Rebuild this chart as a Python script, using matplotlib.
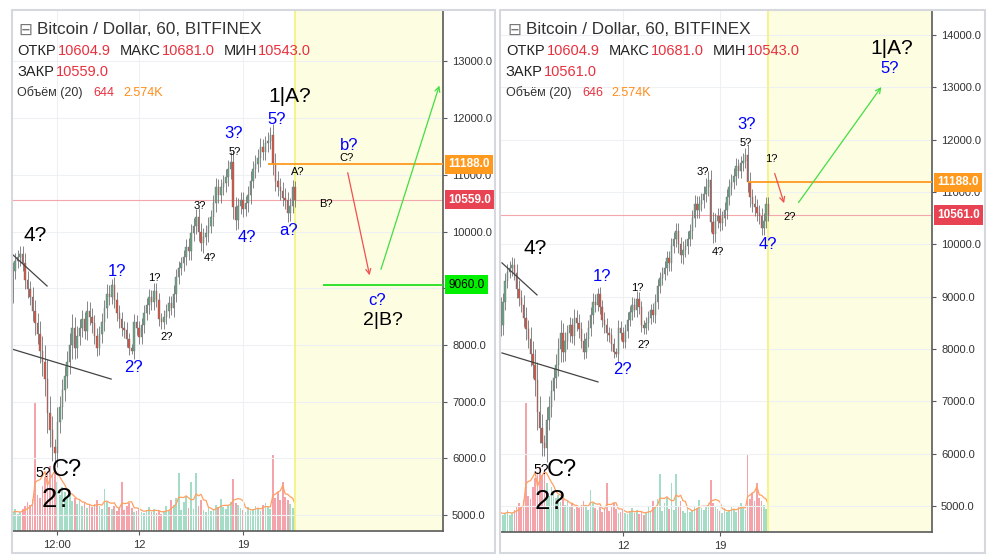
import numpy as np
import pandas as pd
import matplotlib
matplotlib.use('Agg')
import matplotlib.pyplot as plt
from matplotlib.patches import Rectangle

plt.rcParams['font.family'] = ['Liberation Sans', 'DejaVu Sans']

# 4-hour bars, time in days of February
t_start = 3.0
bar_step = 1 / 6
first_open = 8900
closes = [
    8800, 8450, 8900, 9300, 9480, 9550,
    9600, 9450, 9150, 8980, 8850, 8600,
    8380, 8200, 7900, 7700, 7400, 6800,
    6500, 6200, 6100, 6650, 6900, 7200,
    7450, 7700, 8000, 8300, 7950, 8150,
    8300, 8450, 8250, 8600, 8500, 8380,
    8150, 7950, 8200, 8400, 8650, 8900,
    8850, 9050, 8800, 8560, 8450, 8300,
    8260, 8100, 7950, 7900, 8400, 8300,
    8140, 8350, 8560, 8700, 8840, 8750,
    8960, 8800, 8450, 8400, 8500, 8600,
    8740, 8650, 8900, 9200, 9350, 9440,
    9550, 9730, 9650, 9970, 10100, 10250,
    10000, 9800, 9900, 9970, 10100, 10250,
    10500, 10780, 10650, 10780, 10850, 10960,
    11100, 11230, 10430, 10200, 10450, 10550,
    10400, 10500, 10650, 10900, 11100, 11200,
    11300, 11490, 11400, 11560, 11600, 11700,
    11200, 10900, 10780, 10720, 10600, 10550,
    10320, 10450, 10780, 10559,
]
wicks = [
    150, 200, 180, 160, 140, 130,
    150, 140, 170, 160, 150, 180,
    200, 180, 220, 250, 300, 350,
    300, 250, 150, 250, 200, 200,
    180, 200, 220, 250, 200, 180,
    150, 160, 140, 170, 150, 160,
    140, 150, 130, 160, 150, 170,
    150, 120, 140, 130, 150, 140,
    130, 140, 120, 60, 150, 130,
    120, 130, 140, 120, 150, 130,
    140, 130, 120, 110, 120, 130,
    120, 130, 150, 140, 130, 120,
    130, 140, 150, 160, 140, 150,
    160, 150, 170, 140, 150, 130,
    150, 160, 140, 150, 140, 150,
    160, 170, 200, 180, 150, 140,
    140, 130, 150, 160, 140, 150,
    150, 160, 140, 130, 150, 140,
    200, 180, 160, 170, 150, 160,
    150, 140, 130, 120,
]
volumes = [
    2600, 3000, 2400, 2800, 3200, 2500,
    2700, 3100, 3600, 4200, 3800, 4600,
    18500, 5200, 4800, 6500, 7800, 8600,
    9400, 8200, 9000, 7100, 5200, 6400,
    5600, 4900, 5300, 4300, 4700, 3900,
    4400, 3600, 4100, 3300, 3700, 3400,
    3900, 4500, 3600, 3200, 6000, 4200,
    3400, 3100, 3600, 2900, 3300, 7000,
    3000, 3600, 4100, 3300, 2700, 2900,
    3200, 2800, 2600, 3000, 3400, 2700,
    3100, 2600, 2900, 2500, 2800, 3600,
    2900, 4500, 3700, 4800, 8300, 3000,
    4200, 5000, 3300, 7000, 3100, 8300,
    3600, 4400, 3000, 2800, 3300, 2900,
    3100, 3800, 3400, 4600, 3500, 3200,
    3700, 4200, 7500, 4100, 3800, 3300,
    3000, 2700, 3400, 2900, 3200, 3600,
    3300, 2900, 3700, 4100, 3500, 3100,
    11000, 4800, 5600, 4400, 7000, 4900,
    4500, 3900, 3300, 2800,
]

t = t_start + np.arange(len(closes)) * bar_step
opens = [first_open] + closes[:-1]
df = pd.DataFrame({'t': t, 'open': opens, 'close': closes, 'wick': wicks, 'vol': volumes})
df['high'] = df[['open', 'close']].max(axis=1) + df['wick']
df['low'] = df[['open', 'close']].min(axis=1) - df['wick']
df['up'] = df['close'] >= df['open']
df['vol_ma'] = df['vol'].rolling(5, min_periods=1).mean()

forecast_start = 22.5

GREEN = '#6ba583'
RED = '#d75442'
WICK = '#737375'
BLUE = '#0000ff'

panels = [
    dict(rect=[0.012, 0.0484, 0.431, 0.934], xlim=(3.45, 32.45), ylim=(4720, 13910),
         yticks=list(range(5000, 14000, 1000)), hide_tick=9000,
         xticks=[6.5, 12, 19], xticklabels=['12:00', '12', '19'],
         close=10559.0, close_txt='10559.0', vol_last='644',
         hl_orange=(20.68, 11188), hl_green=(24.38, 9060),
         frame=(12, 10, 495, 553), hx=17,
         labels=[
             ('1|A?', 22.16, 12374, 15, 'black'), ('5?', 21.29, 11968, 12, BLUE),
             ('3?', 18.33, 11721, 12, BLUE), ('5?', 18.46, 11404, 8, 'black'),
             ('3?', 16.10, 10451, 8, 'black'), ('4?', 16.78, 9534, 8, 'black'),
             ('4?', 19.27, 9904, 12, BLUE), ('a?', 22.09, 10010, 12, BLUE),
             ('A?', 22.70, 11051, 8, 'black'), ('B?', 24.58, 10486, 8, 'black'),
             ('C?', 25.93, 11298, 8, 'black'), ('b?', 26.13, 11509, 12, BLUE),
             ('c?', 28.02, 8793, 12, BLUE), ('2|B?', 28.42, 8440, 14, 'black'),
             ('1?', 10.52, 9287, 12, BLUE), ('1?', 13.01, 9181, 8, 'black'),
             ('2?', 13.88, 8140, 8, 'black'), ('2?', 11.60, 7611, 12, BLUE),
             ('4?', 5.00, 9922, 15, 'black'), ('5?', 5.54, 5741, 10, 'black'),
             ('C?', 7.15, 5794, 17, 'black'), ('2?', 6.48, 5265, 20, 'black'),
         ],
         arrows=[((26.0, 11086), (27.55, 9181), '#f05050'), ((28.22, 9287), (32.26, 12621), '#44dd44')],
         trend=[((3.52, 9587), (5.81, 9040)), ((3.45, 7928), (10.12, 7399))],
         hdr=[(58, 120, 162, 224, 258), (56,), (93, 123)]),
    dict(rect=[0.500, 0.0466, 0.432, 0.9354], xlim=(3.13, 34.3), ylim=(4503, 14478),
         yticks=list(range(5000, 15000, 1000)), hide_tick=None,
         xticks=[12, 19], xticklabels=['12', '19'],
         close=10561.0, close_txt='10561.0', vol_last='646',
         hl_orange=(21.02, 11188), hl_green=None,
         frame=(500, 10, 985, 553), hx=506,
         labels=[
             ('1|A?', 31.41, 13738, 15, 'black'), ('5?', 31.26, 13356, 12, BLUE),
             ('3?', 20.95, 12285, 12, BLUE), ('5?', 20.87, 11941, 8, 'black'),
             ('3?', 17.77, 11386, 8, 'black'), ('4?', 18.85, 9857, 8, 'black'),
             ('1?', 22.68, 11635, 8, 'black'), ('2?', 24.05, 10526, 8, 'black'),
             ('4?', 22.46, 9990, 12, BLUE), ('4?', 5.65, 9914, 15, 'black'),
             ('1?', 10.48, 9379, 12, BLUE), ('1?', 13.01, 9168, 8, 'black'),
             ('2?', 13.52, 8078, 8, 'black'), ('2?', 11.93, 7600, 12, BLUE),
             ('5?', 6.08, 5688, 10, 'black'), ('C?', 7.60, 5688, 17, 'black'),
             ('2?', 6.73, 5077, 20, 'black'),
         ],
         arrows=[((22.89, 11406), (23.69, 10736), '#f05050'), ((24.55, 10755), (30.76, 13050), '#44dd44')],
         trend=[((3.27, 9646), (5.80, 9034)), ((3.27, 7925), (10.20, 7371))],
         hdr=[(547, 609, 651, 713, 747), (544,), (582, 611)]),
]

fig = plt.figure(figsize=(10, 5.58), dpi=100)
fig.patch.set_facecolor('white')


def fx(px):
    return px / 1000


def fy(py):
    return 1 - py / 558


for p in panels:
    x0, y0, x1, y1 = p['frame']
    fig.patches.append(Rectangle((fx(x0), fy(y1)), fx(x1 - x0), (y1 - y0) / 558,
                                 transform=fig.transFigure, fill=False, ec='#d5d8dd', lw=1.5))

    ax = fig.add_axes(p['rect'])
    axv = ax.twinx()
    ax.set_zorder(axv.get_zorder() + 1)
    ax.patch.set_visible(False)

    # volume
    vcol = np.where(df['up'], '#a5dcc6', '#f4a3aa')
    axv.bar(df['t'], df['vol'], width=bar_step * 0.7, color=vcol, zorder=1)
    axv.plot(df['t'], df['vol_ma'], color='#ffa060', lw=0.9, zorder=2)
    axv.set_ylim(0, 75000)
    axv.set_yticks([])
    for s in axv.spines.values():
        s.set_visible(False)

    ax.set_xlim(*p['xlim'])
    ax.set_ylim(*p['ylim'])
    ax.axvspan(forecast_start, p['xlim'][1], color='#fdfde2', zorder=0)
    ax.axvline(forecast_start, color='#f3f37a', lw=1.2, zorder=0.5)
    for yt in p['yticks']:
        ax.axhline(yt, color='#eef1f4', lw=0.8, zorder=0.3)
    for xt in p['xticks']:
        ax.axvline(xt, color='#eef1f4', lw=0.8, zorder=0.3)

    # candles
    ccol = np.where(df['up'], GREEN, RED)
    ax.vlines(df['t'], df['low'], df['high'], color=WICK, lw=0.6, zorder=3)
    ax.bar(df['t'], (df['close'] - df['open']).abs().clip(lower=20),
           bottom=df[['open', 'close']].min(axis=1), width=bar_step * 0.6,
           color=ccol, edgecolor=WICK, lw=0.3, zorder=4)

    # horizontal levels
    ax.axhline(p['close'], color='#f4a6ad', lw=0.8, zorder=2)
    ox, oy = p['hl_orange']
    ax.hlines(oy, ox, p['xlim'][1], color='#ff9a1f', lw=1.3, zorder=5)
    tr = ax.get_yaxis_transform()
    ax.text(1.012, oy, '11188.0', transform=tr, ha='left', va='center', color='white',
            fontsize=8.5, fontweight='bold', zorder=10,
            bbox=dict(boxstyle='square,pad=0.3', fc='#ff9a1f', ec='none'), clip_on=False)
    ax.text(1.012, p['close'], p['close_txt'], transform=tr, ha='left', va='center', color='white',
            fontsize=8.5, fontweight='bold', zorder=10,
            bbox=dict(boxstyle='square,pad=0.3', fc='#e84352', ec='none'), clip_on=False)
    if p['hl_green']:
        gx, gy = p['hl_green']
        ax.hlines(gy, gx, p['xlim'][1], color='#22e022', lw=1.3, zorder=5)
        ax.text(1.012, gy, '9060.0', transform=tr, ha='left', va='center', color='black',
                fontsize=8.5, zorder=10,
                bbox=dict(boxstyle='square,pad=0.3', fc='#00f000', ec='none'), clip_on=False)

    for (a, b) in p['trend']:
        ax.plot([a[0], b[0]], [a[1], b[1]], color='#444444', lw=0.9, zorder=6)
    for (a, b, c) in p['arrows']:
        ax.annotate('', xy=b, xytext=a,
                    arrowprops=dict(arrowstyle='->', color=c, lw=0.9, mutation_scale=9), zorder=7)
    for (s, lx, ly, fs, c) in p['labels']:
        ax.text(lx, ly, s, fontsize=fs, color=c, ha='center', va='center', zorder=8)

    # axes styling
    for k in ('left', 'top'):
        ax.spines[k].set_visible(False)
    for k in ('right', 'bottom'):
        ax.spines[k].set_color('#5a5a5a')
        ax.spines[k].set_linewidth(1.2)
    ax.yaxis.tick_right()
    ax.set_yticks(p['yticks'])
    # the 9060 price tag covers the 9000 label in the left panel
    ax.set_yticklabels(['' if v == p['hide_tick'] else f'{v:.1f}' for v in p['yticks']])
    ax.set_xticks(p['xticks'])
    ax.set_xticklabels(p['xticklabels'])
    ax.tick_params(axis='both', colors='#5a5a5a', labelcolor='#333333', labelsize=8, length=3)

    # header
    hx = p['hx']
    fig.text(fx(hx + 1), fy(30), '\u229f', fontsize=12, color='#777777', va='center',
             family='DejaVu Sans')
    fig.text(fx(hx + 20), fy(30), 'Bitcoin / Dollar, 60, BITFINEX', fontsize=12.3, color='#333333',
             va='center')
    h2 = p['hdr'][0]
    fs2 = 10.5
    fig.text(fx(hx), fy(51), 'ОТКР', fontsize=fs2, color='#222222', va='center')
    fig.text(fx(h2[0]), fy(51), '10604.9', fontsize=fs2, color='#e8313f', va='center')
    fig.text(fx(h2[1]), fy(51), 'МАКС', fontsize=fs2, color='#222222', va='center')
    fig.text(fx(h2[2]), fy(51), '10681.0', fontsize=fs2, color='#e8313f', va='center')
    fig.text(fx(h2[3]), fy(51), 'МИН', fontsize=fs2, color='#222222', va='center')
    fig.text(fx(h2[4]), fy(51), '10543.0', fontsize=fs2, color='#e8313f', va='center')
    fig.text(fx(hx), fy(72), 'ЗАКР', fontsize=fs2, color='#222222', va='center')
    fig.text(fx(p['hdr'][1][0]), fy(72), p['close_txt'], fontsize=fs2, color='#e8313f', va='center')
    h4 = p['hdr'][2]
    fig.text(fx(hx), fy(93), 'Объём (20)', fontsize=9, color='#333333', va='center')
    fig.text(fx(h4[0]), fy(93), p['vol_last'], fontsize=9, color='#e8313f', va='center')
    fig.text(fx(h4[1]), fy(93), '2.574K', fontsize=9, color='#ff8c1a', va='center')

fig.savefig('out.png', dpi=100)
